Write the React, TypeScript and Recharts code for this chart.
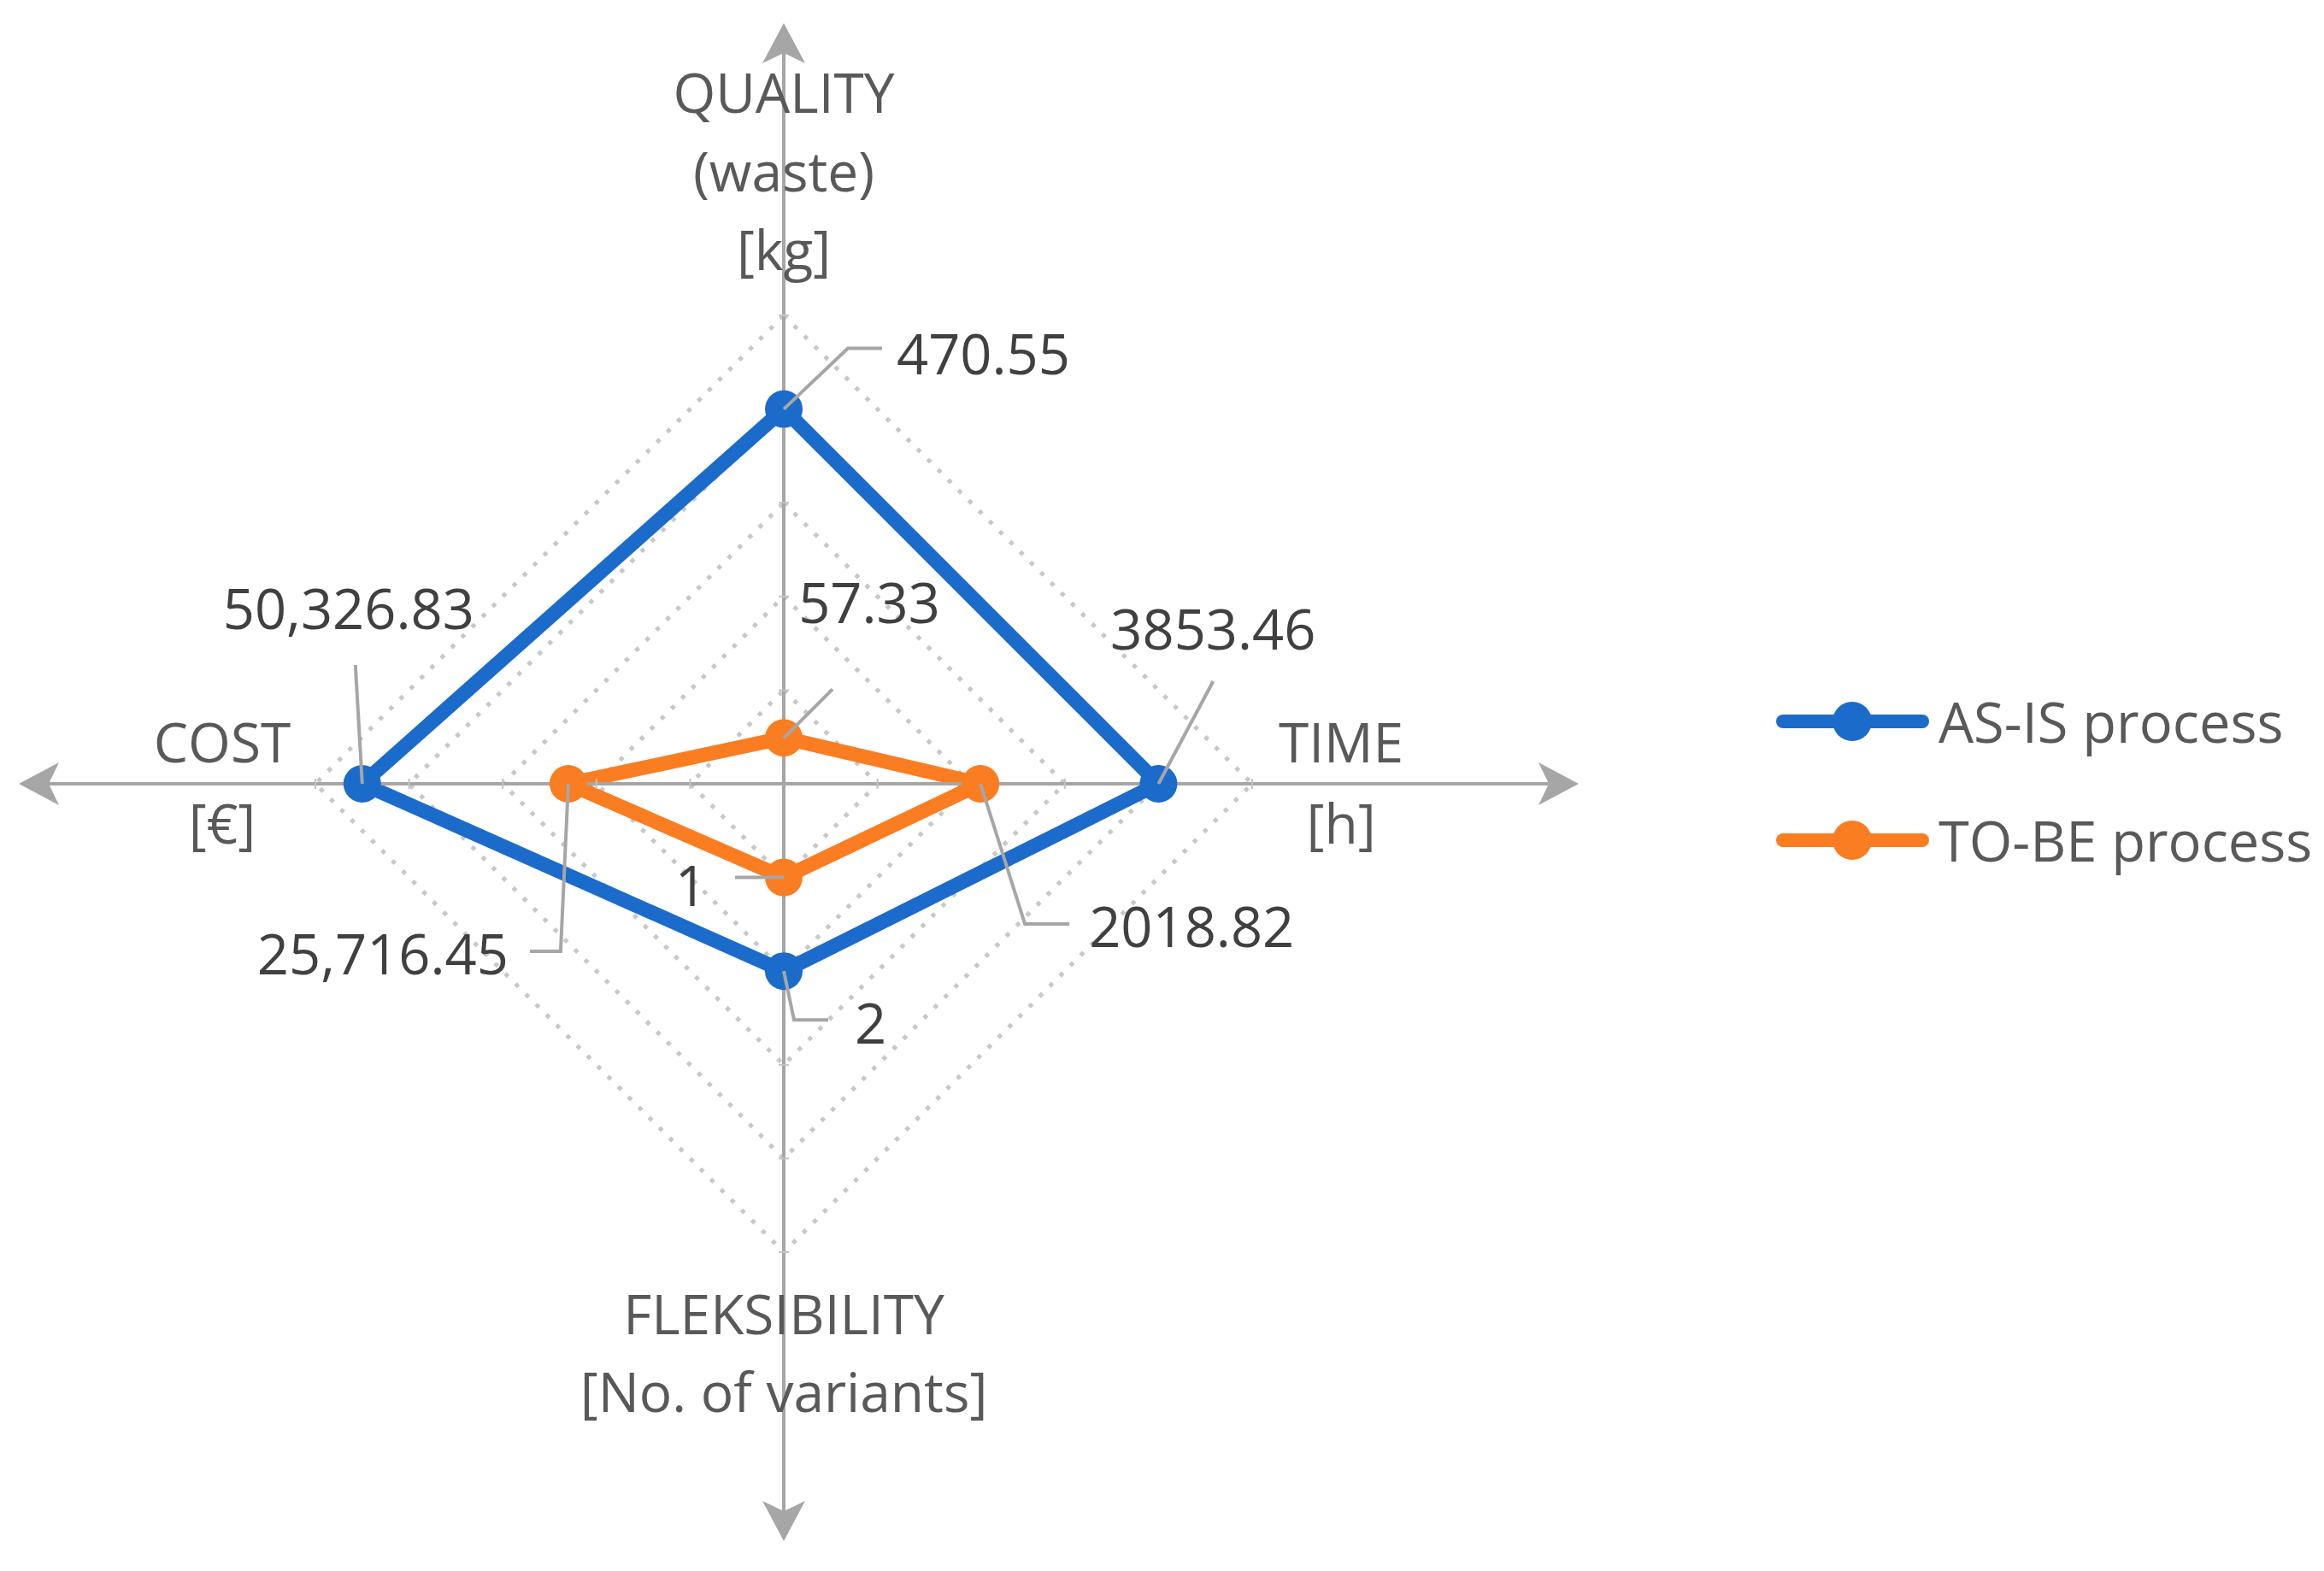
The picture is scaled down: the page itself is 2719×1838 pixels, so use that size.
import React from "react";
import {
  RadarChart,
  Radar,
  PolarGrid,
  PolarAngleAxis,
  PolarRadiusAxis,
  LabelList,
  Legend,
} from "recharts";

// axes, clockwise from the top
const categories = ["QUALITY", "TIME", "FLEKSIBILITY", "COST"];
const categoryLines = [
  ["QUALITY", "(waste)", "[kg]"],
  ["TIME", "[h]"],
  ["FLEKSIBILITY", "[No. of variants]"],
  ["COST", "[€]"],
];

// printed values
const asIsLabels = ["470.55", "3853.46", "2", "50,326.83"];
const toBeLabels = ["57.33", "2018.82", "1", "25,716.45"];

// plotted position on the 0..5 radar scale
const asIsScores = [4, 4, 2, 4.5];
const toBeScores = [0.49, 2.1, 1, 2.3];

const seriesNames = ["AS-IS process", "TO-BE process"];
const seriesColors = ["#1B6BCB", "#FA7D22"];
const radiusTicks = [0, 5];

const data = categories.map((c, i) => ({
  axis: c,
  asIs: asIsScores[i],
  toBe: toBeScores[i],
  asIsLabel: asIsLabels[i],
  toBeLabel: toBeLabels[i],
}));

const CX = 917;
const CY = 917;
const R = 548;
const FONT = "'Segoe UI', 'Open Sans', sans-serif";
const AXIS_GREY = "#A6A6A6";

// how far each arrow reaches from the centre
const axisReach = [890, 930, 886, 895];
// category label offsets from the tick anchor
const catOffsets = [
  { dx: 0, dy: -254, gap: 92 },
  { dx: 96, dy: -50, gap: 95 },
  { dx: 0, dy: 63, gap: 91 },
  { dx: -101, dy: -50, gap: 95 },
];

type Leader = { path: number[][]; dx: number; dy: number; anchor: string };
const asIsLeaders: Leader[] = [
  { path: [[0, 0], [75, -71], [115, -71]], dx: 132, dy: -66, anchor: "start" },
  { path: [[0, 0], [64, -120]], dx: 64, dy: -182, anchor: "middle" },
  { path: [[0, 0], [12, 57], [52, 57]], dx: 83, dy: 60, anchor: "start" },
  { path: [[0, 0], [-8, -139]], dx: -16, dy: -206, anchor: "middle" },
];
const toBeLeaders: Leader[] = [
  { path: [[0, 0], [57, -57]], dx: 100, dy: -159, anchor: "middle" },
  { path: [[0, 0], [52, 164], [104, 164]], dx: 127, dy: 166, anchor: "start" },
  { path: [[0, 0], [-57, 0]], dx: -90, dy: 8, anchor: "end" },
  { path: [[0, 0], [-9, 196], [-45, 196]], dx: -70, dy: 198, anchor: "end" },
];

function makeLabel(leaders: Leader[]) {
  return (props: any) => {
    const { x, y, value, index } = props;
    const l = leaders[index];
    if (!l || x == null) return null;
    const pts = l.path.map(([a, b]) => `${x + a},${y + b}`).join(" ");
    return (
      <g>
        <polyline points={pts} fill="none" stroke={AXIS_GREY} strokeWidth={4} />
        <text
          x={x + l.dx}
          y={y + l.dy}
          textAnchor={l.anchor as any}
          dominantBaseline="central"
          fontFamily={FONT}
          fontSize={65}
          fill="#404040"
        >
          {value}
        </text>
      </g>
    );
  };
}

function makeDot(color: string) {
  return (props: any) => {
    const { cx, cy, index } = props;
    if (cx == null) return null;
    return <circle key={`dot-${index}`} cx={cx} cy={cy} r={22} fill={color} />;
  };
}

function CategoryTick(props: any) {
  const { x, y, index } = props;
  const cx = props.cx ?? CX;
  const cy = props.cy ?? CY;
  const vx = x - cx;
  const vy = y - cy;
  const len = Math.hypot(vx, vy) || 1;
  const ux = vx / len;
  const uy = vy / len;
  const px = -uy;
  const py = ux;
  const reach = axisReach[index];
  const tipX = cx + ux * reach;
  const tipY = cy + uy * reach;
  const head = 47;
  const notch = 35;
  const half = 25;
  const baseX = tipX - ux * head;
  const baseY = tipY - uy * head;
  const notchX = tipX - ux * notch;
  const notchY = tipY - uy * notch;
  const arrow = `${tipX},${tipY} ${baseX + px * half},${baseY + py * half} ${notchX},${notchY} ${baseX - px * half},${baseY - py * half}`;
  const off = catOffsets[index];
  const lines = categoryLines[index];
  return (
    <g>
      <line x1={cx} y1={cy} x2={notchX} y2={notchY} stroke={AXIS_GREY} strokeWidth={4} />
      <polygon points={arrow} fill={AXIS_GREY} />
      {[1, 2, 3, 4, 5].map((k) => {
        const r = (k * R) / 5;
        const mx = cx + ux * r;
        const my = cy + uy * r;
        return (
          <line
            key={k}
            x1={mx - px * 6}
            y1={my - py * 6}
            x2={mx + px * 6}
            y2={my + py * 6}
            stroke="#C4C4C4"
            strokeWidth={2}
          />
        );
      })}
      {lines.map((t, j) => (
        <text
          key={j}
          x={x + off.dx}
          y={y + off.dy + j * off.gap}
          textAnchor="middle"
          dominantBaseline="central"
          fontFamily={FONT}
          fontSize={64}
          fill="#595959"
        >
          {t}
        </text>
      ))}
    </g>
  );
}

function LegendBox() {
  return (
    <svg width={640} height={240}>
      {seriesNames.map((name, i) => {
        const y = 54 + i * 139;
        return (
          <g key={name}>
            <line x1={16} y1={y} x2={179} y2={y} stroke={seriesColors[i]} strokeWidth={16} strokeLinecap="round" />
            <circle cx={97} cy={y} r={23} fill={seriesColors[i]} />
            <text x={198} y={y} dominantBaseline="central" fontFamily={FONT} fontSize={65} fill="#595959">
              {name}
            </text>
          </g>
        );
      })}
    </svg>
  );
}

export default function App() {
  return (
    <div style={{ position: "absolute", left: 0, top: 0, background: "#fff" }}>
      <RadarChart
        width={2719}
        height={1838}
        data={data}
        cx={CX}
        cy={CY}
        outerRadius={R}
        margin={{ top: 0, right: 0, bottom: 0, left: 0 }}
      >
        <PolarGrid
          gridType="polygon"
          radialLines={false}
          stroke="#C8C8C8"
          strokeWidth={5}
          strokeDasharray="5 12"
        />
        <PolarRadiusAxis domain={radiusTicks} tickCount={6} axisLine={false} tick={false} />
        <Radar
          name={seriesNames[0]}
          dataKey="asIs"
          stroke={seriesColors[0]}
          strokeWidth={17}
          strokeLinejoin="round"
          fill="none"
          fillOpacity={0}
          dot={makeDot(seriesColors[0])}
          isAnimationActive={false}
        >
          <LabelList dataKey="asIsLabel" content={makeLabel(asIsLeaders)} />
        </Radar>
        <Radar
          name={seriesNames[1]}
          dataKey="toBe"
          stroke={seriesColors[1]}
          strokeWidth={17}
          strokeLinejoin="round"
          fill="none"
          fillOpacity={0}
          dot={makeDot(seriesColors[1])}
          isAnimationActive={false}
        >
          <LabelList dataKey="toBeLabel" content={makeLabel(toBeLeaders)} />
        </Radar>
        <PolarAngleAxis dataKey="axis" axisLine={false} tickLine={false} tick={<CategoryTick />} />
        <Legend
          layout="vertical"
          align="right"
          verticalAlign="top"
          content={() => <LegendBox />}
          wrapperStyle={{ position: "absolute", left: 2070, top: 790, width: 640 }}
        />
      </RadarChart>
    </div>
  );
}
